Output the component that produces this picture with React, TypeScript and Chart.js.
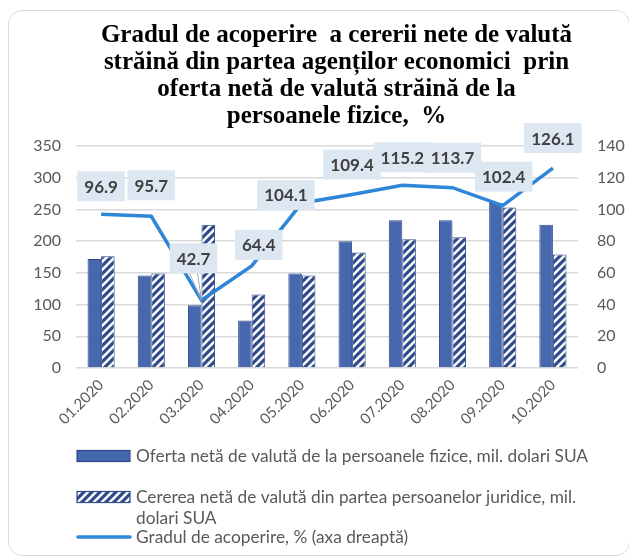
import React, { useEffect, useRef } from 'react';
import { Chart, registerables } from 'chart.js';

Chart.register(...registerables);

const categories = ['01.2020', '02.2020', '03.2020', '04.2020', '05.2020', '06.2020', '07.2020', '08.2020', '09.2020', '10.2020'];
const ofertaValues = [172, 146, 99, 75, 149, 200, 233, 233, 260, 226];
const cerereaValues = [176, 149, 226, 116, 146, 182, 203, 206, 253, 179];
const gradulValues = [96.9, 95.7, 42.7, 64.4, 104.1, 109.4, 115.2, 113.7, 102.4, 126.1];

const leftAxisMin = 0;
const leftAxisMax = 350;
const leftAxisStep = 50;
const rightAxisMin = 0;
const rightAxisMax = 140;
const rightAxisStep = 20;

const titleLines = [
  'Gradul de acoperire  a cererii nete de valută',
  'străină din partea agenților economici  prin',
  'oferta netă de valută străină de la',
  'persoanele fizice,  %',
];

const seriesNames = [
  'Oferta netă de valută de la persoanele fizice, mil. dolari SUA',
  'Cererea netă de valută din partea persoanelor juridice, mil. dolari SUA',
  'Gradul de acoperire, % (axa dreaptă)',
];

const SOLID = '#4767ae';
const DARK = '#2f4a8a';
const LINE = '#2e86d8';
const GRAY_TEXT = '#595959';
const SANS = 'Lato, "Noto Sans", sans-serif';

function makeHatch(): CanvasPattern | string {
  const c = document.createElement('canvas');
  c.width = 8;
  c.height = 8;
  const g = c.getContext('2d');
  if (!g) return DARK;
  g.fillStyle = DARK;
  g.fillRect(0, 0, 8, 8);
  g.strokeStyle = '#ffffff';
  g.lineWidth = 2.6;
  g.beginPath();
  g.moveTo(-1, 9); g.lineTo(9, -1);
  g.moveTo(-5, 5); g.lineTo(5, -5);
  g.moveTo(3, 13); g.lineTo(13, 3);
  g.stroke();
  const p = g.createPattern(c, 'repeat');
  return p || DARK;
}

// per-label offsets of the value boxes relative to their points (dx, dy)
const labelShift = [
  [0, -28], [0, -31], [-8, -42], [7, -21], [-16, -8],
  [0, -30], [0, -28], [0, -30], [1, -29], [0, -30],
];

const valueLabelPlugin = {
  id: 'valueLabels',
  afterDraw(chart: any) {
    const meta = chart.getDatasetMeta(0);
    const ctx = chart.ctx;
    ctx.save();
    ctx.font = 'bold 17px ' + SANS;
    ctx.textAlign = 'center';
    ctx.textBaseline = 'middle';
    meta.data.forEach((pt: any, i: number) => {
      const txt = gradulValues[i].toFixed(1);
      const [dx, dy] = labelShift[i];
      const cx = pt.x + dx;
      const cy = pt.y + dy;
      const w = ctx.measureText(txt).width + 14;
      const h = 30;
      if (Math.abs(dy) > 35) {
        ctx.strokeStyle = '#a6a6a6';
        ctx.lineWidth = 1;
        ctx.beginPath();
        ctx.moveTo(cx - 4, cy + h / 2);
        ctx.lineTo(pt.x, pt.y);
        ctx.moveTo(cx + 4, cy + h / 2);
        ctx.lineTo(pt.x, pt.y);
        ctx.stroke();
      }
      ctx.fillStyle = '#dde7f2';
      ctx.fillRect(cx - w / 2, cy - h / 2, w, h);
      ctx.fillStyle = '#404040';
      ctx.fillText(txt, cx, cy + 1);
    });
    ctx.restore();
  },
};

const titlePlugin = {
  id: 'customTitle',
  afterDraw(chart: any) {
    const ctx = chart.ctx;
    ctx.save();
    ctx.font = 'bold 25px "Liberation Serif", serif';
    ctx.fillStyle = '#000000';
    ctx.textAlign = 'center';
    ctx.textBaseline = 'alphabetic';
    titleLines.forEach((line, i) => {
      ctx.fillText(line, 327.5, 30.7 + i * 27);
    });
    ctx.restore();
  },
};

function wrapText(ctx: CanvasRenderingContext2D, text: string, maxW: number): string[] {
  const words = text.split(' ');
  const lines: string[] = [];
  let cur = '';
  words.forEach((w) => {
    const test = cur ? cur + ' ' + w : w;
    if (ctx.measureText(test).width > maxW && cur) {
      lines.push(cur);
      cur = w;
    } else {
      cur = test;
    }
  });
  if (cur) lines.push(cur);
  return lines;
}

const legendPlugin = {
  id: 'customLegend',
  afterDraw(chart: any) {
    const ctx = chart.ctx;
    const hatch = chart.$hatch;
    ctx.save();
    ctx.font = '17.3px ' + SANS;
    ctx.textBaseline = 'middle';
    ctx.textAlign = 'left';
    const swX = 68;
    const swW = 53;
    const textX = 127;
    const maxW = 470;
    const rowY = [445, 486, 526];
    seriesNames.forEach((name, i) => {
      const y = rowY[i];
      if (i === 0) {
        ctx.fillStyle = SOLID;
        ctx.fillRect(swX, y - 5.5, swW, 11);
        ctx.strokeStyle = DARK;
        ctx.lineWidth = 1.2;
        ctx.strokeRect(swX, y - 5.5, swW, 11);
      } else if (i === 1) {
        ctx.fillStyle = hatch;
        ctx.fillRect(swX, y - 5.5, swW, 11);
        ctx.strokeStyle = DARK;
        ctx.lineWidth = 1.2;
        ctx.strokeRect(swX, y - 5.5, swW, 11);
      } else {
        ctx.strokeStyle = LINE;
        ctx.lineWidth = 3.5;
        ctx.lineCap = 'round';
        ctx.beginPath();
        ctx.moveTo(swX + 1, y);
        ctx.lineTo(swX + swW, y);
        ctx.stroke();
      }
      ctx.fillStyle = GRAY_TEXT;
      const lines = wrapText(ctx, name, maxW);
      lines.forEach((ln, k) => ctx.fillText(ln, textX, y + k * 21));
    });
    ctx.restore();
  },
};

export default function App() {
  const ref = useRef<HTMLCanvasElement | null>(null);

  useEffect(() => {
    const canvas = ref.current;
    if (!canvas) return;
    const hatch = makeHatch();
    const chart: any = new Chart(canvas, {
      type: 'bar',
      data: {
        labels: categories,
        datasets: [
          {
            type: 'line',
            label: seriesNames[2],
            data: gradulValues,
            yAxisID: 'y1',
            borderColor: LINE,
            borderWidth: 3.5,
            pointRadius: 0,
            tension: 0,
            fill: false,
            order: 0,
          } as any,
          {
            type: 'bar',
            label: seriesNames[0],
            data: ofertaValues,
            yAxisID: 'y',
            backgroundColor: SOLID,
            borderColor: DARK,
            borderWidth: 1,
            categoryPercentage: 0.54,
            barPercentage: 1.0,
            order: 1,
          },
          {
            type: 'bar',
            label: seriesNames[1],
            data: cerereaValues,
            yAxisID: 'y',
            backgroundColor: hatch as any,
            borderColor: DARK,
            borderWidth: 1,
            categoryPercentage: 0.54,
            barPercentage: 1.0,
            order: 2,
          },
        ],
      },
      options: {
        responsive: false,
        animation: false,
        layout: { padding: { top: 135, left: 0, right: 0, bottom: 106 } },
        plugins: {
          legend: { display: false },
          title: { display: false },
          tooltip: { enabled: false },
        },
        scales: {
          x: {
            grid: { display: false, drawTicks: false },
            border: { display: false },
            ticks: {
              font: { family: SANS, size: 15 },
              color: GRAY_TEXT,
              minRotation: 45,
              maxRotation: 45,
              padding: 8,
            },
            afterFit: (s: any) => { s.height = 81; },
          },
          y: {
            position: 'left',
            min: leftAxisMin,
            max: leftAxisMax,
            ticks: {
              stepSize: leftAxisStep,
              font: { family: SANS, size: 16 },
              color: GRAY_TEXT,
              padding: 15,
            },
            grid: { color: '#d9d9d9', lineWidth: 1.5, drawTicks: false },
            border: { display: false },
            afterFit: (s: any) => { s.width = 67; },
          },
          y1: {
            position: 'right',
            min: rightAxisMin,
            max: rightAxisMax,
            ticks: {
              stepSize: rightAxisStep,
              font: { family: SANS, size: 16 },
              color: GRAY_TEXT,
              padding: 19,
            },
            grid: { display: false, drawTicks: false },
            border: { display: false },
            afterFit: (s: any) => { s.width = 51; },
          },
        },
      },
      plugins: [titlePlugin, valueLabelPlugin, legendPlugin],
    });
    chart.$hatch = hatch;
    chart.draw();
    return () => chart.destroy();
  }, []);

  return (
    <div
      style={{
        position: 'relative',
        width: 622,
        height: 546,
        marginTop: 2,
        boxSizing: 'border-box',
        border: '1px solid #d9d9d9',
        borderRadius: 14,
        background: '#ffffff',
      }}
    >
      <canvas
        ref={ref}
        width={620}
        height={544}
        style={{ position: 'absolute', left: 0, top: 0, width: 620, height: 544 }}
      />
    </div>
  );
}
